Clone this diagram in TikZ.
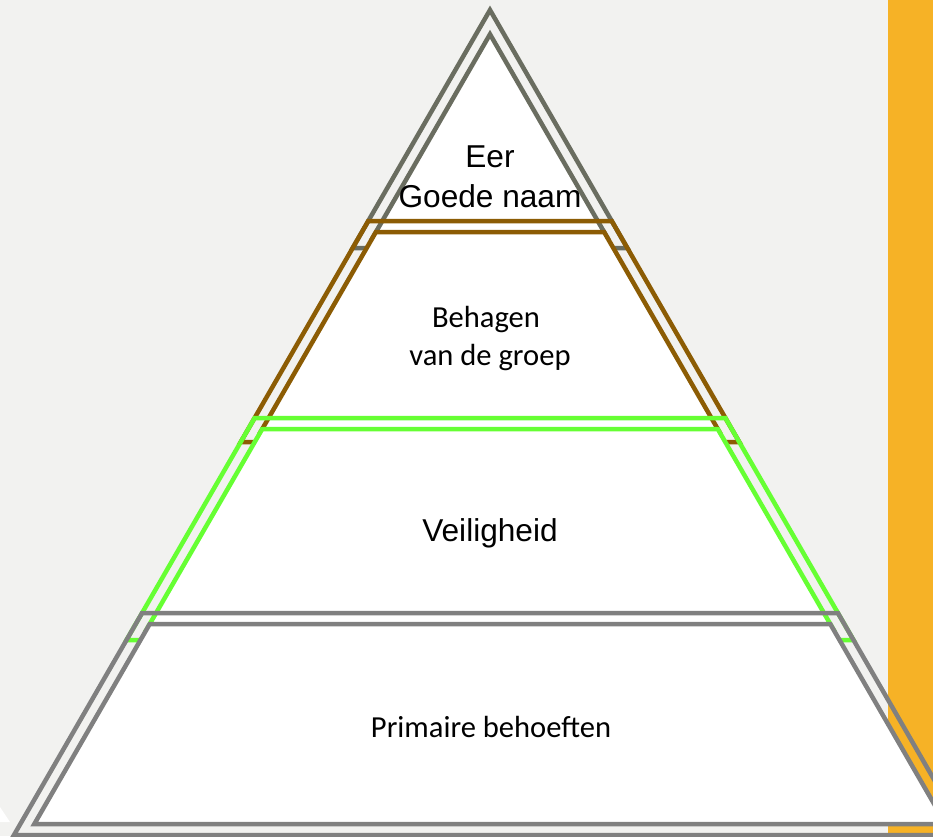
\documentclass[tikz,border=0pt]{standalone}
\usepackage{fontspec}
\setmainfont{Liberation Sans}
\newfontfamily\gillfont{Carlito}
\usetikzlibrary{math}

\definecolor{slidebg}{RGB}{242,242,240}
\definecolor{barorange}{RGB}{246,178,38}
\definecolor{tipgray}{RGB}{106,109,96}
\definecolor{groupbrown}{RGB}{140,92,4}
\definecolor{safegreen}{RGB}{102,255,51}
\definecolor{basegray}{RGB}{128,128,128}

\begin{document}
\begin{tikzpicture}[
				x=0.02cm, y=-0.02cm,
				every node/.style={inner sep=0pt},
				pyrline/.style={line width=0.09cm, line join=miter},
				arialtext/.style={font=\fontsize{18}{21}\selectfont},
				gilltext/.style={font=\gillfont\fontsize{17.4}{20}\selectfont}
			]
			\tikzmath{
				\cx    = 490;    %centre line
				\ay    = 10;     %apex of the big triangle
				\s     = 0.577;  %half width per px down
				\gap   = 14;     %inner outline shift (sides)
				\inset = 11;     %inner outline shift (top, bottom)
			}
			\useasboundingbox (0,0) rectangle (933,836);
			\clip (0,0) rectangle (933,836);
			\fill[slidebg] (0,0) rectangle (933,836);
			\fill[barorange] (888,0) rectangle (933,836);
			\fill[white] (0,807) -- (10,822) -- (0,822) -- cycle;

			% top triangle
			\pgfmathsetmacro\wb{(248-\ay)*\s}
			\pgfmathsetmacro\yai{\ay+\gap/\s}
			\pgfmathsetmacro\wbi{(237-\ay)*\s-\gap}
			\draw[pyrline, tipgray] (\cx,\ay) -- (\cx+\wb,248) -- (\cx-\wb,248) -- cycle;
			\draw[pyrline, tipgray, fill=white] (\cx,\yai) -- (\cx+\wbi,237) -- (\cx-\wbi,237) -- cycle;

			% lower levels
			\foreach \col/\yt/\yb in {groupbrown/221/442, safegreen/418/640, basegray/613/835}{
				\pgfmathsetmacro\wt{(\yt-\ay)*\s}
				\pgfmathsetmacro\wb{(\yb-\ay)*\s}
				\pgfmathsetmacro\yti{\yt+\inset}
				\pgfmathsetmacro\ybi{\yb-\inset}
				\pgfmathsetmacro\wti{(\yti-\ay)*\s-\gap}
				\pgfmathsetmacro\wbi{(\ybi-\ay)*\s-\gap}
				\draw[pyrline, \col] (\cx-\wt,\yt) -- (\cx+\wt,\yt) -- (\cx+\wb,\yb) -- (\cx-\wb,\yb) -- cycle;
				\draw[pyrline, \col, fill=white] (\cx-\wti,\yti) -- (\cx+\wti,\yti) -- (\cx+\wbi,\ybi) -- (\cx-\wbi,\ybi) -- cycle;
			}

			\node[arialtext, anchor=base] (eer) at (490,167) {Eer};
			\node[arialtext, anchor=base] (goede) at (490,207) {Goede naam};
			\node[gilltext, anchor=base] (behagen) at (486,327) {Behagen};
			\node[gilltext, anchor=base] (groep) at (490,365) {van de groep};
			\node[arialtext, anchor=base] (veilig) at (490,541) {Veiligheid};
			\node[gilltext, anchor=base] (primair) at (491,737) {Primaire behoeften};
		\end{tikzpicture}
\end{document}
